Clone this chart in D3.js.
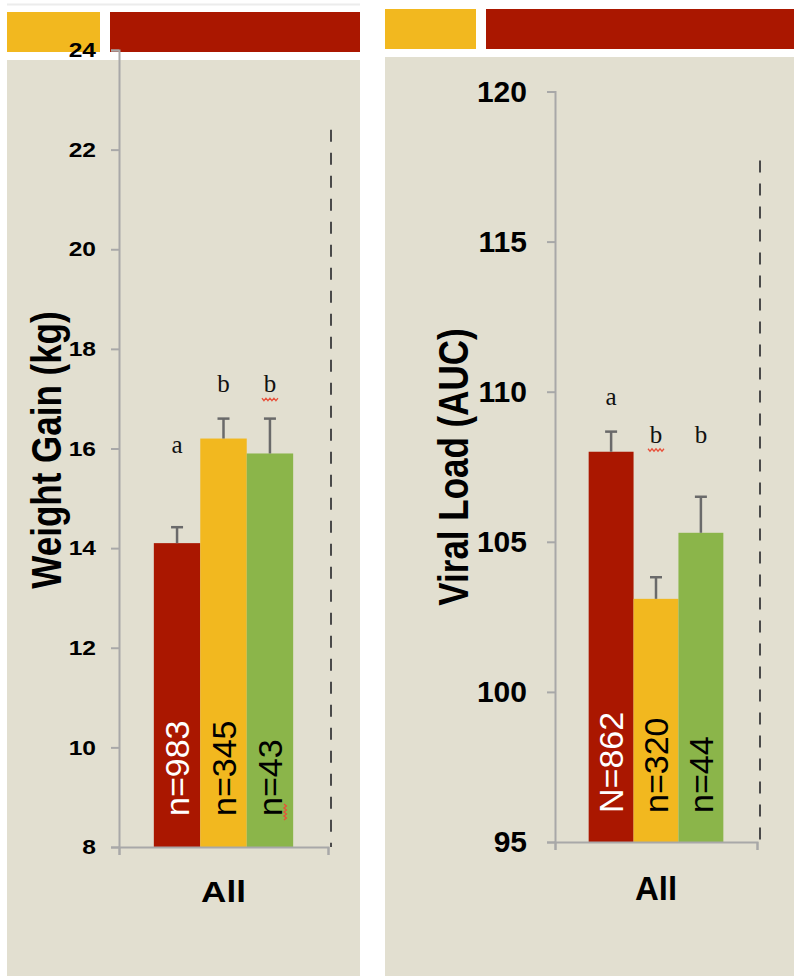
<!DOCTYPE html>
<html>
<head>
<meta charset="utf-8">
<script src="https://cdn.jsdelivr.net/npm/d3@7/dist/d3.min.js"></script>
<style>
  html, body { margin: 0; padding: 0; background: #ffffff; }
  svg { display: block; }
  text { font-family: "Liberation Sans", Arial, Helvetica, sans-serif; }
</style>
</head>
<body>
<svg id="chart" width="794" height="976"></svg>
<script>
// ---------- data ----------
const groups = ["All"];
const seriesKeys = ["s1", "s2", "s3"];
const seriesColors = ["#aa1700", "#f2b81f", "#8bb54a"];
const seriesLabelColors = ["#ffffff", "#000000", "#000000"];

const weightMeans = [14.1, 16.2, 15.9];
const weightErrors = [0.32, 0.4, 0.7];
const weightCounts = ["n=983", "n=345", "n=43"];
const weightLetters = ["a", "b", "b"];
const weightLetterValues = [15.9, 17.13, 17.13];
const weightTicks = [8, 10, 12, 14, 16, 18, 20, 22, 24];
const weightTitle = "Weight Gain (kg)";

const viralMeans = [108.0, 103.1, 105.3];
const viralErrors = [0.67, 0.72, 1.2];
const viralCounts = ["N=862", "n=320", "n=44"];
const viralLetters = ["a", "b", "b"];
const viralLetterValues = [109.55, 108.3, 108.3];
const viralTicks = [95, 100, 105, 110, 115, 120];
const viralTitle = "Viral Load (AUC)";

// ---------- drawing ----------
const svg = d3.select("#chart");

function drawPanel(cfg) {
  const g = svg.append("g");
  g.append("rect").attr("x", cfg.panelX0).attr("y", cfg.panelY0)
    .attr("width", cfg.panelX1 - cfg.panelX0).attr("height", 976 - cfg.panelY0)
    .attr("fill", "#e2dfd0");
  g.append("rect").attr("x", cfg.panelX0).attr("y", cfg.headY)
    .attr("width", cfg.headSplit - cfg.panelX0).attr("height", 40).attr("fill", "#f2b81f");
  g.append("rect").attr("x", cfg.headSplit + 10).attr("y", cfg.headY)
    .attr("width", cfg.panelX1 - cfg.headSplit - 10).attr("height", 40).attr("fill", "#aa1700");

  const y = d3.scaleLinear().domain(cfg.domain).range(cfg.yRange);
  const x0 = d3.scaleBand().domain(groups).range([cfg.axisX, cfg.axisEnd])
    .paddingInner(0).paddingOuter(0.25);
  const x1 = d3.scaleBand().domain(seriesKeys).range([0, x0.bandwidth()]).padding(0);
  const base = cfg.domain[0];

  const rows = seriesKeys.map((k, i) => ({
    key: k, mean: cfg.means[i], err: cfg.errors[i], n: cfg.counts[i],
    letter: cfg.letters[i], letterV: cfg.letterValues[i],
    color: seriesColors[i], labelColor: seriesLabelColors[i], group: groups[0]
  }));

  g.append("line")
    .attr("x1", cfg.axisEnd + 3).attr("x2", cfg.axisEnd + 3)
    .attr("y1", y(cfg.dashTop)).attr("y2", y(base))
    .attr("stroke", "#4a4a4a").attr("stroke-width", 2)
    .attr("stroke-dasharray", "12,11");

  g.selectAll("rect.bar").data(rows).join("rect").attr("class", "bar")
    .attr("x", d => x0(d.group) + x1(d.key))
    .attr("width", x1.bandwidth())
    .attr("y", d => y(d.mean))
    .attr("height", d => y(base) - y(d.mean))
    .attr("fill", d => d.color);

  const cx = d => x0(d.group) + x1(d.key) + x1.bandwidth() / 2;
  g.selectAll("line.err").data(rows).join("line").attr("class", "err")
    .attr("x1", cx).attr("x2", cx)
    .attr("y1", d => y(d.mean)).attr("y2", d => y(d.mean + d.err))
    .attr("stroke", "#6a6a6a").attr("stroke-width", 2.5);
  g.selectAll("line.cap").data(rows).join("line").attr("class", "cap")
    .attr("x1", d => cx(d) - 6).attr("x2", d => cx(d) + 6)
    .attr("y1", d => y(d.mean + d.err)).attr("y2", d => y(d.mean + d.err))
    .attr("stroke", "#6a6a6a").attr("stroke-width", 2.5);

  g.selectAll("text.letter").data(rows).join("text").attr("class", "letter")
    .attr("x", cx).attr("y", d => y(d.letterV))
    .attr("text-anchor", "middle")
    .style("font-family", "'Liberation Serif', 'Times New Roman', serif")
    .style("font-size", "25px").attr("fill", "#111")
    .text(d => d.letter);

  g.selectAll("text.nlab").data(rows).join("text").attr("class", "nlab")
    .attr("transform", d => `translate(${cx(d)},${y(base) - cfg.nOffset}) rotate(-90)`)
    .attr("dy", "0.36em")
    .attr("text-anchor", "start")
    .style("font-size", "34px").attr("fill", d => d.labelColor)
    .text(d => d.n);

  cfg.squiggles.forEach(s => {
    const d = rows[s.i];
    let path = "";
    if (s.kind === "letter") {
      const px = cx(d) - 8, py = y(d.letterV) + 6;
      path = `M${px},${py}` + d3.range(4).map(() => ` l2,2.5 l2,-2.5`).join("");
    } else {
      const px = cx(d) + 14, py = y(base) - cfg.nOffset + 4;
      path = `M${px},${py}` + d3.range(4).map(() => ` l2.5,-2 l-2.5,-2`).join("");
    }
    g.append("path").attr("d", path).attr("fill", "none")
      .attr("stroke", "#e8503a").attr("stroke-width", 1.3);
  });

  const yAxis = g.append("g").attr("transform", `translate(${cfg.axisX},0)`)
    .call(d3.axisLeft(y).tickValues(cfg.ticks).tickSize(8).tickPadding(cfg.tickPad)
      .tickFormat(d3.format("d")));
  yAxis.select(".domain").attr("stroke", "#a8a8a8").attr("stroke-width", 2);
  yAxis.selectAll(".tick line").attr("stroke", "#a8a8a8").attr("stroke-width", 2);
  yAxis.selectAll(".tick text").style("font-size", cfg.tickFont + "px")
    .style("font-weight", "bold").attr("fill", "#000")
    .attr("x", 0)
    .attr("transform", `translate(${-(8 + cfg.tickPad)},0) scale(${cfg.textStretch},1)`);

  const xl = d3.scaleLinear().domain([0, 1]).range([cfg.axisX, cfg.axisEnd]);
  const xAxis = g.append("g").attr("transform", `translate(0,${y(base)})`)
    .call(d3.axisBottom(xl).tickValues([0, 1]).tickSize(8).tickFormat(""));
  xAxis.select(".domain").attr("stroke", "#a8a8a8").attr("stroke-width", 2);
  xAxis.selectAll(".tick line").attr("stroke", "#a8a8a8").attr("stroke-width", 2);

  g.selectAll("text.cat").data(groups).join("text").attr("class", "cat")
    .attr("transform", d => `translate(${x0(d) + x0.bandwidth() / 2},${y(base) + cfg.catOffset}) scale(${cfg.textStretch},1)`)
    .attr("text-anchor", "middle").style("font-size", cfg.catFont + "px")
    .style("font-weight", "bold").attr("fill", "#000").text(d => d);

  g.append("text")
    .attr("transform", `translate(${cfg.titleX},${cfg.titleY}) scale(1.2,1) rotate(-90)`)
    .attr("dy", "0.36em").attr("text-anchor", "middle")
    .style("font-size", "35px").style("font-weight", "bold").attr("fill", "#000")
    .text(cfg.title);
}

svg.append("line").attr("x1", 7).attr("x2", 360).attr("y1", 4.5).attr("y2", 4.5)
  .attr("stroke", "#ececec").attr("stroke-width", 2);

drawPanel({
  panelX0: 7, panelX1: 360, panelY0: 60, headY: 12, headSplit: 100,
  axisX: 119, axisEnd: 328, domain: [8, 24], yRange: [847, 50],
  means: weightMeans, errors: weightErrors, counts: weightCounts,
  letters: weightLetters, letterValues: weightLetterValues, ticks: weightTicks,
  title: weightTitle, titleX: 46, titleY: 450, tickPad: 15, tickFont: 21,
  textStretch: 1.17, catFont: 30, catOffset: 55, nOffset: 31, dashTop: 22.4,
  squiggles: [{ i: 2, kind: "letter" }, { i: 2, kind: "n" }]
});

drawPanel({
  panelX0: 385, panelX1: 794, panelY0: 57, headY: 9, headSplit: 476,
  axisX: 555, axisEnd: 757, domain: [95, 120], yRange: [842, 91.5],
  means: viralMeans, errors: viralErrors, counts: viralCounts,
  letters: viralLetters, letterValues: viralLetterValues, ticks: viralTicks,
  title: viralTitle, titleX: 453, titleY: 467, tickPad: 20, tickFont: 30,
  textStretch: 1.0, catFont: 33, catOffset: 58, nOffset: 29, dashTop: 117.7,
  squiggles: [{ i: 1, kind: "letter" }]
});
</script>
</body>
</html>
